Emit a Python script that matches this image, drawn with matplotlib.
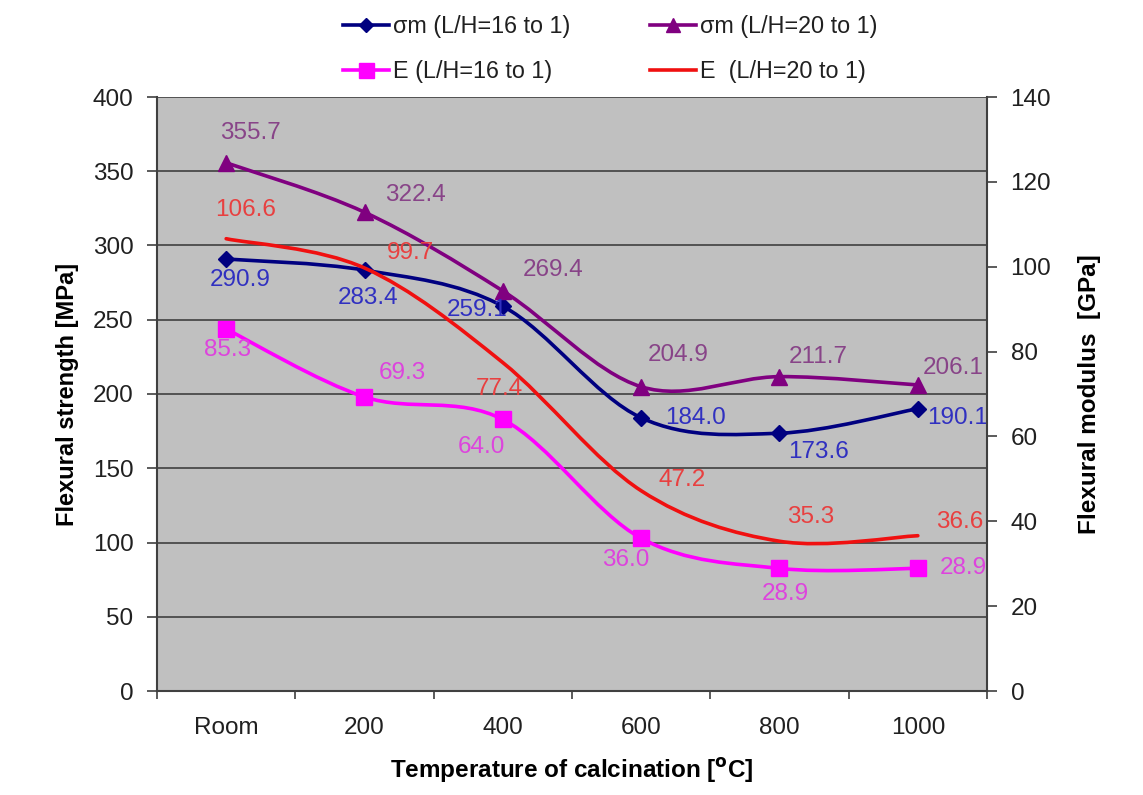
import matplotlib
matplotlib.use("Agg")
import matplotlib.pyplot as plt
from matplotlib.path import Path
from matplotlib.patches import PathPatch
from matplotlib.lines import Line2D
import numpy as np

plt.rcParams['font.family'] = ['Liberation Sans', 'DejaVu Sans']

# ---- data ----
categories = ['Room', '200', '400', '600', '800', '1000']
sigma_16 = [290.9, 283.4, 259.1, 184.0, 173.6, 190.1]   # MPa, left axis
sigma_20 = [355.7, 322.4, 269.4, 204.9, 211.7, 206.1]   # MPa, left axis
E_16 = [85.3, 69.3, 64.0, 36.0, 28.9, 28.9]             # GPa, right axis
E_20 = [106.6, 99.7, 77.4, 47.2, 35.3, 36.6]            # GPa, right axis
left_ticks = [0, 50, 100, 150, 200, 250, 300, 350, 400]
right_ticks = [0, 20, 40, 60, 80, 100, 120, 140]

# ---- label offsets (pixels, dx, dy-down) ----
off_s16 = [(14, 21), (4, 28), (-26, 4), (54, 0), (39, 19), (40, 9)]
off_s20 = [(24, -30), (51, -17), (50, -21), (37, -32), (39, -20), (35, -17)]
off_e16 = [(1, 21), (38, -24), (-21, 28), (-15, 22), (6, 26), (45, 0)]
off_e20 = [(19, -29), (46, -15), (-3, 26), (41, -11), (31, -24), (42, -14)]

W, H = 1143, 795
fig = plt.figure(figsize=(W / 100, H / 100), dpi=100)
fig.patch.set_facecolor('white')
L, R, B, T = 157 / W, 987 / W, 1 - 691 / H, 1 - 97 / H
ax = fig.add_axes([L, B, R - L, T - B])
ax2 = ax.twinx()

ax.set_facecolor('#c0c0c0')
ax.set_xlim(-0.5, len(categories) - 0.5)
ax.set_ylim(0, 400)
ax2.set_ylim(0, 140)
ax.set_yticks(left_ticks)
ax2.set_yticks(right_ticks)

grid_c = '#4a4a4a'
for v in left_ticks[1:]:
    ax.axhline(v, color=grid_c, lw=1.3, zorder=1)


def smooth_path(xs, ys):
    pts = np.column_stack([xs, ys]).astype(float)
    n = len(pts)
    verts = [pts[0]]
    codes = [Path.MOVETO]
    for i in range(n - 1):
        p0 = pts[i - 1] if i > 0 else pts[i]
        p1 = pts[i]
        p2 = pts[i + 1]
        p3 = pts[i + 2] if i + 2 < n else pts[i + 1]
        c1 = p1 + (p2 - p0) / 6.0
        c2 = p2 - (p3 - p1) / 6.0
        verts += [c1, c2, p2]
        codes += [Path.CURVE4] * 3
    return Path(verts, codes)


xs = np.arange(len(categories))
series = [
    (ax, sigma_16, '#000080', 'D', 8, '#3030c0', off_s16, 'σm (L/H=16 to 1)'),
    (ax, sigma_20, '#800080', '^', 11, '#884488', off_s20, 'σm (L/H=20 to 1)'),
    (ax2, E_16, '#ff00ff', 's', 12, '#dd44dd', off_e16, 'E (L/H=16 to 1)'),
    (ax2, E_20, '#f01010', None, 0, '#e84040', off_e20, 'E  (L/H=20 to 1)'),
]

handles = []
for a, vals, col, mk, ms, lcol, offs, name in series:
    patch = PathPatch(smooth_path(xs, vals), facecolor='none', edgecolor=col,
                      lw=2.6, zorder=3, capstyle='round', joinstyle='round')
    a.add_patch(patch)
    if mk:
        a.plot(xs, vals, linestyle='none', marker=mk, ms=ms, color=col,
               markeredgecolor=col, zorder=4)
    for xi, v, (dx, dy) in zip(xs, vals, offs):
        a.annotate(f'{v:.1f}', (xi, v), xytext=(dx, -dy),
                   textcoords='offset pixels', ha='center', va='center',
                   fontsize=17.5, color=lcol, zorder=5, annotation_clip=False)
    handles.append(Line2D([], [], color=col, lw=2.6, marker=mk if mk else None,
                          ms=ms * 0.9, markeredgecolor=col, label=name))

# axes styling
for s in ['top']:
    ax.spines[s].set_visible(False)
    ax2.spines[s].set_visible(False)
ax.spines['left'].set_color('#404040')
ax.spines['bottom'].set_color('#404040')
ax.spines['left'].set_linewidth(1.5)
ax.spines['bottom'].set_linewidth(1.5)
ax2.spines['right'].set_color('#404040')
ax2.spines['right'].set_linewidth(1.5)
ax2.spines['left'].set_visible(False)
ax2.spines['bottom'].set_visible(False)
ax.spines['right'].set_visible(False)

ax.set_xticks(xs)
ax.set_xticklabels(categories, fontsize=17.5, color='#202020')
ax.set_xticks(np.arange(-0.5, len(categories) + 0.5, 1.0), minor=True)
ax.tick_params(axis='x', which='major', length=0, pad=19)
ax.tick_params(axis='x', which='minor', length=6, width=1.2, color='#404040')
ax.tick_params(axis='y', length=7, width=1.2, color='#404040', labelsize=17.5,
               pad=10, labelcolor='#202020')
ax2.tick_params(axis='y', length=7, width=1.2, color='#404040', labelsize=17.5,
                pad=10, labelcolor='#202020')

ax.set_ylabel('Flexural strength [MPa]', fontsize=17, fontweight='bold', labelpad=10)
ax2.set_ylabel('Flexural modulus  [GPa]', fontsize=17.5, fontweight='bold', labelpad=19)
ax.set_xlabel(r'Temperature of calcination [$^{\mathbf{o}}$C]', fontsize=17.5,
              fontweight='bold', labelpad=12)

order = [handles[0], handles[2], handles[1], handles[3]]
fig.legend(handles=order, loc='center', bbox_to_anchor=(610 / W, 1 - 49 / H),
           ncol=2, frameon=False, fontsize=16.8, handlelength=2.0,
           handletextpad=0.15, columnspacing=3.4, labelspacing=0.95,
           numpoints=1, labelcolor='#202020')

fig.savefig('out.png', dpi=100, facecolor='white')
